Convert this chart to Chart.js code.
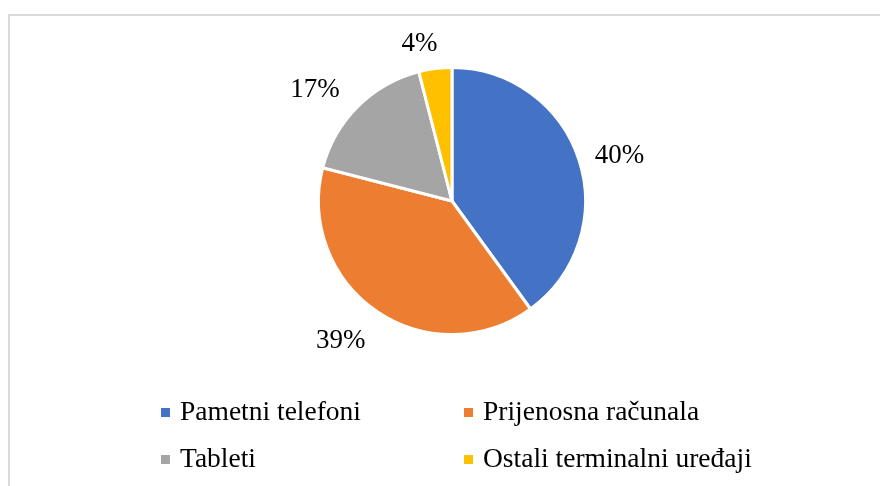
<!DOCTYPE html>
<html>
<head>
<meta charset="utf-8">
<script src="https://cdn.jsdelivr.net/npm/chart.js@4.4.1/dist/chart.umd.min.js"></script>
<style>
    html, body { margin: 0; padding: 0; background: #fff; }
    #wrap { position: relative; width: 880px; height: 486px; }
</style>
</head>
<body>
<div id="wrap"><canvas id="chart" width="880" height="486"></canvas></div>
<script>
const labels = ['Pametni telefoni', 'Prijenosna računala', 'Tableti', 'Ostali terminalni uređaji'];
const shares = [40, 39, 17, 4];
const colors = ['#4472C4', '#ED7D31', '#A5A5A5', '#FFC000'];

const FONT = '"Liberation Serif", "Times New Roman", serif';

// frame around the chart (only top and left edges are visible in the picture)
const framePlugin = {
    id: 'frame',
    beforeDraw(chart) {
        const ctx = chart.ctx;
        ctx.save();
        ctx.strokeStyle = '#d9d9d9';
        ctx.lineWidth = 2;
        ctx.beginPath();
        ctx.moveTo(9, chart.height);
        ctx.lineTo(9, 15);
        ctx.lineTo(chart.width, 15);
        ctx.stroke();
        ctx.restore();
    }
};

// percent labels outside each slice (box pushed outward from the mid angle)
const outsideLabels = {
    id: 'outsideLabels',
    afterDatasetsDraw(chart) {
        const ctx = chart.ctx;
        const meta = chart.getDatasetMeta(0);
        const total = shares.reduce((a, b) => a + b, 0);
        ctx.save();
        ctx.font = '27px ' + FONT;
        ctx.fillStyle = '#000';
        ctx.textAlign = 'center';
        ctx.textBaseline = 'middle';
        meta.data.forEach((arc, i) => {
            const mid = (arc.startAngle + arc.endAngle) / 2;
            const dx = Math.cos(mid);
            const dy = Math.sin(mid);
            const text = Math.round(shares[i] / total * 100) + '%';
            const w = ctx.measureText(text).width;
            const h = 20;
            const r = arc.outerRadius + 20;
            const x = arc.x + dx * r + dx * w / 2 + (dx < 0 ? -11 : -2);
            const y = arc.y + dy * r + dy * h / 2 + 5;
            ctx.fillText(text, x, y);
        });
        ctx.restore();
    }
};

// two-column legend under the pie
const gridLegend = {
    id: 'gridLegend',
    afterDraw(chart) {
        const ctx = chart.ctx;
        const colX = [161, 464];
        const rowY = [413, 460];
        ctx.save();
        ctx.font = '27.5px ' + FONT;
        ctx.textBaseline = 'middle';
        ctx.textAlign = 'left';
        labels.forEach((lab, i) => {
            const x = colX[i % 2];
            const y = rowY[Math.floor(i / 2)];
            ctx.fillStyle = colors[i];
            ctx.fillRect(x, y - 5, 9, 9);
            ctx.fillStyle = '#000';
            ctx.fillText(lab, x + 19, y);
        });
        ctx.restore();
    }
};

new Chart(document.getElementById('chart').getContext('2d'), {
    type: 'pie',
    data: {
        labels: labels,
        datasets: [{
            data: shares,
            backgroundColor: colors,
            borderColor: '#ffffff',
            borderWidth: 3
        }]
    },
    options: {
        responsive: false,
        animation: false,
        layout: {
            padding: { top: 66, left: 317, right: 293, bottom: 150 }
        },
        plugins: {
            legend: { display: false },
            tooltip: { enabled: false }
        }
    },
    plugins: [framePlugin, outsideLabels, gridLegend]
});
</script>
</body>
</html>
